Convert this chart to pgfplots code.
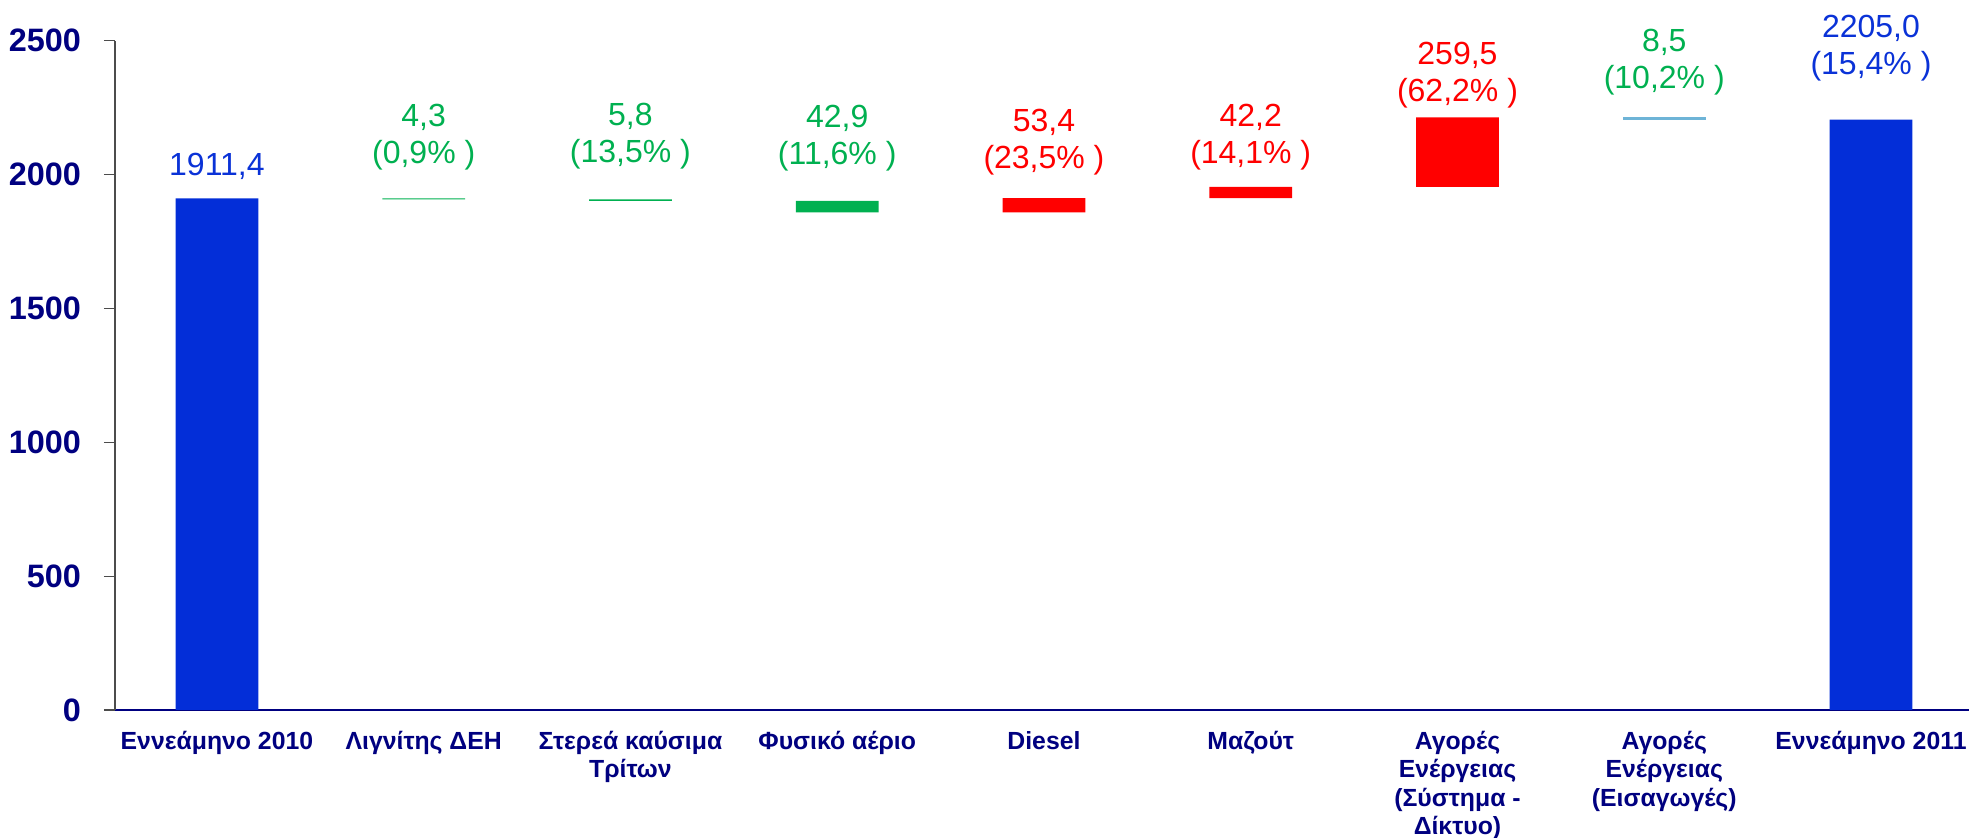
\documentclass[border=0pt]{standalone}
\usepackage{pgfplots}
\pgfplotsset{compat=1.18}
\usepackage{fontspec}
\setmainfont{Liberation Sans}
\begin{document}
\begin{tikzpicture}
\definecolor{navy}{RGB}{0,0,128}
\definecolor{barBlue}{RGB}{3,46,216}
\definecolor{lblBlue}{RGB}{10,50,215}
\definecolor{upRed}{RGB}{255,0,0}
\definecolor{downGreen}{RGB}{0,176,80}
\definecolor{thinBlue}{RGB}{110,180,215}
    \begin{axis}[
    width=927pt,
    height=334.65pt,
    scale only axis,
    ybar stacked,
    bar width=0.4,
    xmin=0.507, xmax=9.474,
    ymin=0, ymax=2500,
    axis x line=bottom,
    axis y line=left,
    axis line style={-},
    x axis line style={navy,line width=1.4pt},
    y axis line style={black!70,line width=0.6pt},
    xtick={1,...,9},
    xtick style={draw=none},
    xticklabels={
        Εννεάμηνο 2010,
        Λιγνίτης ΔΕΗ,
        Στερεά καύσιμα\\Τρίτων,
        Φυσικό αέριο,
        Diesel,
        Μαζούτ,
        Αγορές\\Ενέργειας\\(Σύστημα -\\Δίκτυο),
        Αγορές\\Ενέργειας\\(Εισαγωγές),
        Εννεάμηνο 2011
    },
    xticklabel style={align=center,text=navy,font=\bfseries\fontsize{12.4}{14.2}\selectfont,yshift=-1.6pt},
    ytick={0,500,...,2500},
    tick align=outside,
    ytick style={black!70,line width=0.6pt},
    major tick length=5.5pt,
    yticklabel style={text=navy,font=\bfseries\fontsize{16.2}{18}\selectfont,xshift=-8pt},
    /pgf/number format/assume math mode=true,
    /pgf/number format/1000 sep={},
    clip=false,
    ]
    % invisible base of the floating bars
    \addplot[fill=none,draw=none] coordinates {
        (1,0) (2,1907.1) (3,1901.3) (4,1858.4) (5,1858.4) (6,1911.8) (7,1954.0) (8,2205.0) (9,0)
    };
    % totals
    \addplot[fill=barBlue,draw=none] coordinates {
        (1,1911.4) (2,0) (3,0) (4,0) (5,0) (6,0) (7,0) (8,0) (9,2205.0)
    };
    % decreases
    \addplot[fill=downGreen,draw=none] coordinates {
        (1,0) (2,4.3) (3,5.8) (4,42.9) (5,0) (6,0) (7,0) (8,0) (9,0)
    };
    % increases
    \addplot[fill=upRed,draw=none] coordinates {
        (1,0) (2,0) (3,0) (4,0) (5,53.4) (6,42.2) (7,259.5) (8,0) (9,0)
    };
    \addplot[fill=thinBlue,draw=none] coordinates {
        (1,0) (2,0) (3,0) (4,0) (5,0) (6,0) (7,0) (8,8.5) (9,0)
    };

    % value labels, anchored on the baseline of their last line
    \tikzset{vlab/.style={align=center,anchor=base,font=\fontsize{16}{18.5}\selectfont}}
    \node[vlab,text=lblBlue]   at (axis cs:1,1998) {1911,4};
    \node[vlab,text=downGreen] at (axis cs:2,2040) {4,3\\(0,9\% )};
    \node[vlab,text=downGreen] at (axis cs:3,2044) {5,8\\(13,5\% )};
    \node[vlab,text=downGreen] at (axis cs:4,2038) {42,9\\(11,6\% )};
    \node[vlab,text=upRed]     at (axis cs:5,2022) {53,4\\(23,5\% )};
    \node[vlab,text=upRed]     at (axis cs:6,2043) {42,2\\(14,1\% )};
    \node[vlab,text=upRed]     at (axis cs:7,2272) {259,5\\(62,2\% )};
    \node[vlab,text=downGreen] at (axis cs:8,2322) {8,5\\(10,2\% )};
    \node[vlab,text=lblBlue]   at (axis cs:9,2372) {2205,0\\(15,4\% )};
    \end{axis}
    \pgfresetboundingbox
    \path[use as bounding box] ([xshift=-57.5pt,yshift=-64pt]current axis.south west)
        rectangle ([yshift=20.35pt]current axis.north east);
\end{tikzpicture}
\end{document}
